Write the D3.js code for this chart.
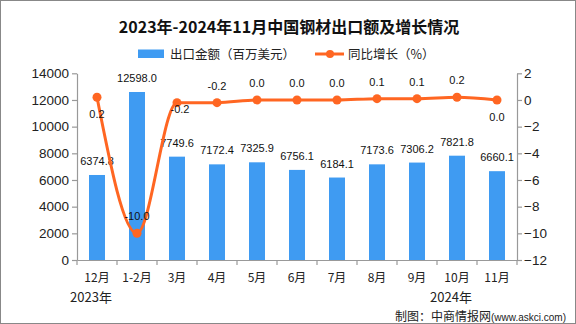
<!DOCTYPE html>
<html><head><meta charset="utf-8">
<script src="https://cdn.jsdelivr.net/npm/d3@7/dist/d3.min.js"></script>
<style>
html,body{margin:0;padding:0;background:#fff;}
svg{display:block;}
text{font-family:"Liberation Sans","Noto Sans CJK SC",sans-serif;}
</style></head>
<body>
<svg id="chart" width="576" height="324"></svg>
<script>
const categories = ["12月","1-2月","3月","4月","5月","6月","7月","8月","9月","10月","11月"];
const exportValues = [6374.8,12598.0,7749.6,7172.4,7325.9,6756.1,6184.1,7173.6,7306.2,7821.8,6660.1];
const growthValues = [0.2,-10.0,-0.2,-0.2,0.0,0.0,0.0,0.1,0.1,0.2,0.0];
const leftTicks = [0,2000,4000,6000,8000,10000,12000,14000];
const rightTicks = [-12,-10,-8,-6,-4,-2,0,2];
const yearLabels = [{idx:0,text:"2023年"},{idx:9,text:"2024年"}];
const titleText = "2023年-2024年11月中国钢材出口额及增长情况";
const legendBar = "出口金额（百万美元）";
const legendLine = "同比增长（%）";
const sourceMain = "制图：中商情报网";
const sourceUrl = "(www.askci.com)";
// label placement for growth labels (style only)
const growthLabelPlace = ["below","above","at","above","above","above","above","above","above","above","below"];

const svg = d3.select("#chart");
const W = 576, H = 324;
const m = {left:77, right:517, top:73.3, bottom:260};
const barColor = "#3f9bf2", lineColor = "#ff6622", axisColor = "#999";

svg.append("rect").attr("x",0.5).attr("y",0.5).attr("width",W-1).attr("height",H-1)
  .attr("fill","#fff").attr("stroke","#888");

const x = d3.scaleBand().domain(categories).range([m.left,m.right]).paddingInner(0.6).paddingOuter(0.3);
const xb = d3.scaleBand().domain(categories).range([m.left,m.right]);
const yL = d3.scaleLinear().domain([0,14000]).range([m.bottom,m.top]);
const yR = d3.scaleLinear().domain([-12,2]).range([m.bottom,m.top]);

// title
svg.append("text").attr("x",289).attr("y",33).attr("text-anchor","middle")
  .attr("font-size",16).attr("font-weight","bold").attr("fill","#111")
  .style("font-family","'Noto Sans CJK SC',sans-serif").text(titleText);

// legend
svg.append("rect").attr("x",138).attr("y",49.5).attr("width",26).attr("height",8.5).attr("fill",barColor);
svg.append("text").attr("x",170).attr("y",58.5).attr("font-size",12.5).attr("fill","#222")
  .style("font-family","'Noto Sans CJK SC',sans-serif").text(legendBar);
svg.append("line").attr("x1",315).attr("x2",344).attr("y1",54).attr("y2",54).attr("stroke",lineColor).attr("stroke-width",3);
svg.append("circle").attr("cx",330).attr("cy",54).attr("r",4).attr("fill",lineColor);
svg.append("text").attr("x",348).attr("y",58.5).attr("font-size",12.5).attr("fill","#222")
  .style("font-family","'Noto Sans CJK SC',sans-serif").text(legendLine);

// axes
const gL = svg.append("g").attr("transform",`translate(${m.left},0)`)
  .call(d3.axisLeft(yL).tickValues(leftTicks).tickSize(5).tickSizeOuter(0).tickFormat(d3.format("d")));
const gR = svg.append("g").attr("transform",`translate(${m.right},0)`)
  .call(d3.axisRight(yR).tickValues(rightTicks).tickSize(5).tickSizeOuter(0).tickFormat(d=>d<0?"\u2212"+Math.abs(d):d));
const gX = svg.append("g").attr("transform",`translate(0,${m.bottom})`)
  .call(d3.axisBottom(xb).tickSize(0).tickSizeOuter(0).tickFormat(""));
[gL,gR,gX].forEach(g=>{
  g.select(".domain").attr("stroke",axisColor).attr("stroke-width",1.2);
  g.selectAll(".tick line").attr("stroke",axisColor).attr("stroke-width",1.2);
  g.selectAll(".tick text").attr("fill","#222").attr("font-size",13.5)
   .style("font-family","'Liberation Sans',sans-serif");
});
gL.selectAll(".tick text").attr("x",-8);
gR.selectAll(".tick text").attr("x",7);
// x ticks at band boundaries
const bounds = categories.map(c=>xb(c)).concat([m.right]);
svg.append("g").selectAll("line").data(bounds).join("line")
  .attr("x1",d=>d).attr("x2",d=>d).attr("y1",m.bottom).attr("y2",m.bottom+5)
  .attr("stroke",axisColor).attr("stroke-width",1.2);
// category labels
svg.append("g").selectAll("text").data(categories).join("text")
  .attr("x",d=>xb(d)+xb.bandwidth()/2).attr("y",282).attr("text-anchor","middle")
  .attr("font-size",12).attr("fill","#222").style("font-family","'Noto Sans CJK SC',sans-serif")
  .text(d=>d);
svg.append("g").selectAll("text").data(yearLabels).join("text")
  .attr("x",d=>xb(categories[d.idx])+xb.bandwidth()/2-6).attr("y",302).attr("text-anchor","middle")
  .attr("font-size",13).attr("fill","#222").style("font-family","'Noto Sans CJK SC',sans-serif")
  .text(d=>d.text);

// bars
svg.append("g").selectAll("rect").data(exportValues).join("rect")
  .attr("x",(d,i)=>x(categories[i])).attr("width",x.bandwidth())
  .attr("y",d=>yL(d)).attr("height",d=>m.bottom-yL(d)).attr("fill",barColor);
svg.append("g").selectAll("text").data(exportValues).join("text")
  .attr("x",(d,i)=>x(categories[i])+x.bandwidth()/2).attr("y",d=>yL(d)-10)
  .attr("text-anchor","middle").attr("font-size",11).attr("fill","#111")
  .text(d=>d.toFixed(1));

// line
const cx = i=>xb(categories[i])+xb.bandwidth()/2;
const line = d3.line().x((d,i)=>cx(i)).y(d=>yR(d)).curve(d3.curveMonotoneX);
svg.append("path").datum(growthValues).attr("d",line).attr("fill","none")
  .attr("stroke",lineColor).attr("stroke-width",3);
svg.append("g").selectAll("circle").data(growthValues).join("circle")
  .attr("cx",(d,i)=>cx(i)).attr("cy",d=>yR(d)).attr("r",4.5).attr("fill",lineColor);
svg.append("g").selectAll("text").data(growthValues).join("text")
  .attr("x",(d,i)=>cx(i)+(growthLabelPlace[i]==="at"?3:0))
  .attr("y",(d,i)=>{
    const p=growthLabelPlace[i], yy=yR(d);
    return p==="below"?yy+21:(p==="above"?yy-13:yy+10);
  })
  .attr("text-anchor","middle").attr("font-size",11).attr("fill","#111")
  .text(d=>d.toFixed(1));

// source
const src = svg.append("text").attr("x",566).attr("y",321).attr("text-anchor","end")
  .attr("fill","#222").style("font-family","'Noto Sans CJK SC',sans-serif");
src.append("tspan").attr("font-size",12).text(sourceMain);
src.append("tspan").attr("font-size",10).style("font-family","'Liberation Sans',sans-serif").text(sourceUrl);
</script>
</body></html>
